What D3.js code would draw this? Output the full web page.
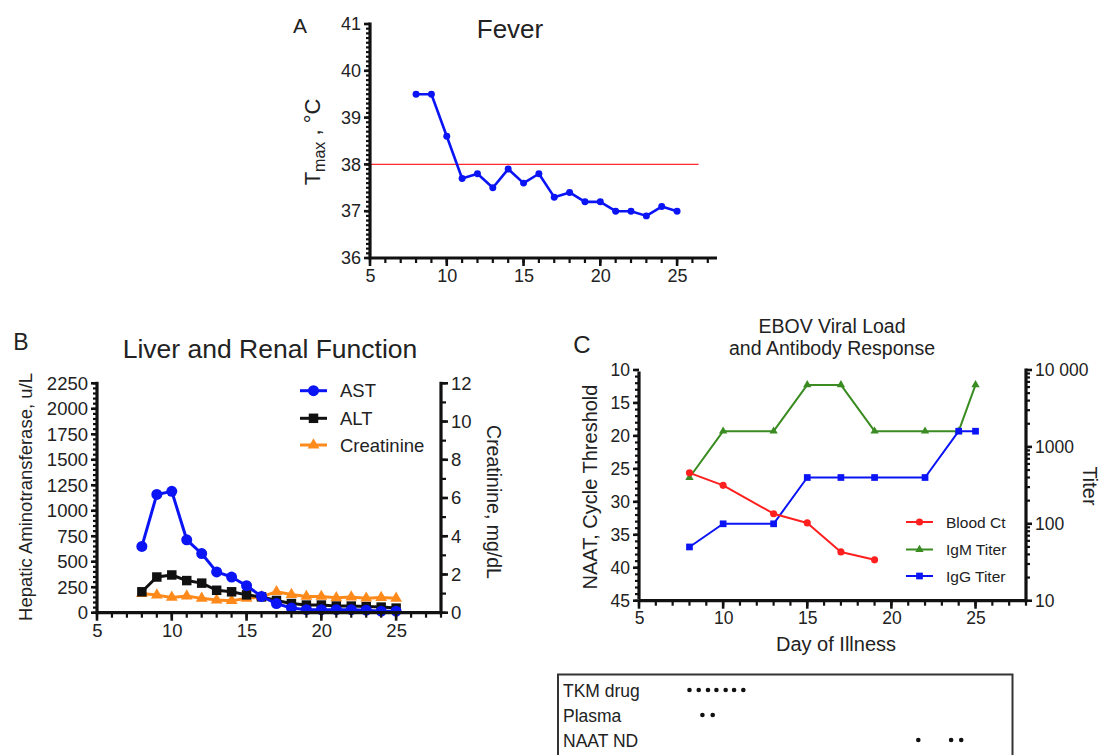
<!DOCTYPE html>
<html>
<head>
<meta charset="utf-8">
<script src="https://cdn.jsdelivr.net/npm/d3@7"></script>
<style>
  body { margin: 0; background: #fff; }
  text { font-family: "Liberation Sans", Arial, sans-serif; fill: #222; }
</style>
</head>
<body>
<svg id="fig" width="1101" height="755"></svg>
<script>
// Panel A - fever
const feverDays = [8, 9, 10, 11, 12, 13, 14, 15, 16, 17, 18, 19, 20, 21, 22, 23, 24, 25];
const tmax = [39.5, 39.5, 38.6, 37.7, 37.8, 37.5, 37.9, 37.6, 37.8, 37.3, 37.4, 37.2, 37.2, 37.0, 37.0, 36.9, 37.1, 37.0];
const feverLimit = 38;
const feverLimitEnd = 26.4;

// Panel B - liver and renal function
const labDays = [8, 9, 10, 11, 12, 13, 14, 15, 16, 17, 18, 19, 20, 21, 22, 23, 24, 25];
const astValues = [650, 1160, 1190, 715, 580, 400, 350, 265, 160, 90, 45, 30, 30, 30, 30, 25, 15, 15];
const altValues = [205, 350, 370, 315, 290, 220, 205, 175, 155, 120, 90, 75, 75, 65, 65, 60, 55, 45];
const creatinine = [1.0, 0.92, 0.8, 0.87, 0.75, 0.66, 0.63, 0.75, 0.83, 1.1, 0.95, 0.85, 0.85, 0.78, 0.82, 0.76, 0.79, 0.75];

// Panel C - viral load and antibodies
const ctDays = [8, 10, 13, 15, 17, 19];
const bloodCt = [25.6, 27.5, 31.8, 33.2, 37.6, 38.8];
const titerDays = [8, 10, 13, 15, 17, 19, 22, 24, 25];
const igmTiter = [400, 1600, 1600, 6400, 6400, 1600, 1600, 1600, 6400];
const iggTiter = [50, 100, 100, 400, 400, 400, 400, 1600, 1600];

// Treatment table
const treatRows = ["TKM drug", "Plasma", "NAAT ND"];
const tkmDays = [8.0, 8.55, 9.1, 9.6, 10.15, 10.65, 11.2];
const plasmaDays = [8.77, 9.38];
const naatNdDays = [21.6, 23.55, 24.15];

const svg = d3.select("#fig");
const dataLayer = svg.append("g");
const axisLayer = svg.append("g");

// ticks: d3 axis for placement and labels, then every tick line and the
// axis line redrawn as plain thick black lines (GraphPad look)
function drawAxis(axisFn, scale, majors, minors, fmt, pos, fontSize, majorLen = 7, minorLen = 4.5) {
  const vertical = axisFn === d3.axisLeft || axisFn === d3.axisRight;
  const sign = (axisFn === d3.axisLeft || axisFn === d3.axisTop) ? -1 : 1;
  const g = axisLayer.append("g").attr("transform", pos);

  g.append("g")
      .call(axisFn(scale).tickValues(majors).tickSize(0).tickSizeOuter(0)
        .tickPadding(majorLen + 3).tickFormat(fmt))
      .call(a => a.select(".domain").remove())
      .call(a => a.selectAll("text").style("font-size", fontSize + "px").attr("fill", "#222"));

  const ticks = minors.map(v => ({ v, len: minorLen, w: 2.2 }))
    .concat(majors.map(v => ({ v, len: majorLen, w: 2.6 })));
  g.selectAll("line.tk")
    .data(ticks)
    .join("line")
      .attr("class", "tk")
      .attr("x1", d => vertical ? 0 : scale(d.v))
      .attr("x2", d => vertical ? sign * d.len : scale(d.v))
      .attr("y1", d => vertical ? scale(d.v) : 0)
      .attr("y2", d => vertical ? scale(d.v) : sign * d.len)
      .attr("stroke", "#111")
      .attr("stroke-width", d => d.w);

  const [r0, r1] = scale.range();
  g.append("line")
      .attr("x1", vertical ? 0 : r0).attr("x2", vertical ? 0 : r1)
      .attr("y1", vertical ? r0 + 1.5 : 0).attr("y2", vertical ? r1 - 1.5 : 0)
      .attr("stroke", "#111")
      .attr("stroke-width", 3.2);
}

function label(text, x, y, size, opts = {}) {
  return svg.append("text")
      .attr("transform", `translate(${x},${y}) rotate(${opts.rotate || 0})`)
      .attr("text-anchor", opts.anchor || "middle")
      .style("font-size", size + "px")
      .text(text);
}

function series(xs, ys, x, y, color, width) {
  dataLayer.append("path")
      .datum(xs.map((d, i) => [d, ys[i]]))
      .attr("fill", "none")
      .attr("stroke", color)
      .attr("stroke-width", width)
      .attr("stroke-linejoin", "round")
      .attr("d", d3.line().x(d => x(d[0])).y(d => y(d[1])));
}

function markers(xs, ys, x, y, color, type, size) {
  dataLayer.append("g").selectAll("path")
    .data(xs.map((d, i) => [d, ys[i]]))
    .join("path")
      .attr("transform", d => `translate(${x(d[0])},${y(d[1])})`)
      .attr("d", d3.symbol().type(type).size(size))
      .attr("fill", color);
}

const dayTicks = [5, 10, 15, 20, 25];

// ---------- A ----------
const xA = d3.scaleLinear([5, 27.6], [370, 717]);
const yA = d3.scaleLinear([36, 41], [258, 24]);

dataLayer.append("line")
    .attr("x1", xA(5)).attr("x2", xA(feverLimitEnd))
    .attr("y1", yA(feverLimit)).attr("y2", yA(feverLimit))
    .attr("stroke", "#ff2a2a").attr("stroke-width", 1.3);

series(feverDays, tmax, xA, yA, "#0a14f5", 2.6);
markers(feverDays, tmax, xA, yA, "#0a14f5", d3.symbolCircle, 38);

drawAxis(d3.axisLeft, yA, d3.range(36, 42), d3.range(36, 41.01, 0.1), d3.format("d"), "translate(370,0)", 18, 6, 4);
drawAxis(d3.axisBottom, xA, dayTicks, d3.range(5, 28), d3.format("d"), "translate(0,258)", 18, 8, 5);

label("A", 300, 33, 21);
label("Fever", 510, 38, 26);
const tl = label("", 320, 142, 22, { rotate: -90 });
tl.append("tspan").text("T");
tl.append("tspan").attr("dy", 5).style("font-size", "16px").text("max");
tl.append("tspan").attr("dy", -5).text(" , °C");

// ---------- B ----------
const xB = d3.scaleLinear([5, 28], [97, 441]);
const yB = d3.scaleLinear([0, 2250], [612.7, 383.3]);
const yB2 = d3.scaleLinear([0, 12], [612.7, 383.3]);

series(labDays, creatinine, xB, yB2, "#ff8a1c", 3);
markers(labDays, creatinine, xB, yB2, "#ff8a1c", d3.symbolTriangle, 60);
series(labDays, altValues, xB, yB, "#111", 3);
markers(labDays, altValues, xB, yB, "#111", d3.symbolSquare, 90);
series(labDays, astValues, xB, yB, "#0a14f5", 3);
markers(labDays, astValues, xB, yB, "#0a14f5", d3.symbolCircle, 95);

drawAxis(d3.axisLeft, yB, d3.range(0, 2251, 250), d3.range(0, 2251, 50), d3.format("d"), "translate(97,0)", 18.5, 6, 4);
drawAxis(d3.axisRight, yB2, d3.range(0, 13, 2), d3.range(0, 13, 1), d3.format("d"), "translate(441,0)", 18.5, 7, 5);
drawAxis(d3.axisBottom, xB, dayTicks, d3.range(5, 29), d3.format("d"), "translate(0,612.7)", 18.5, 8, 5);

label("B", 21, 350, 23);
label("Liver and Renal Function", 270, 358, 26.5);
label("Hepatic Aminotransferase, u/L", 32, 497, 18.5, { rotate: -90 });
label("Creatinine, mg/dL", 487, 502, 19.5, { rotate: 90 });

const legB = [
  { name: "AST", color: "#0a14f5", type: d3.symbolCircle, size: 95, y: 390.7 },
  { name: "ALT", color: "#111", type: d3.symbolSquare, size: 90, y: 418.3 },
  { name: "Creatinine", color: "#ff8a1c", type: d3.symbolTriangle, size: 60, y: 445 }
];
legB.forEach(d => {
  dataLayer.append("line").attr("x1", 300).attr("x2", 327).attr("y1", d.y).attr("y2", d.y)
      .attr("stroke", d.color).attr("stroke-width", 3);
  dataLayer.append("path").attr("transform", `translate(313.5,${d.y})`)
      .attr("d", d3.symbol().type(d.type).size(d.size)).attr("fill", d.color);
  label(d.name, 340, d.y + 6.5, 18.5, { anchor: "start" });
});

// ---------- C ----------
const xC = d3.scaleLinear([5, 28], [639, 1026]);
const yC = d3.scaleLinear([10, 45], [370, 600.7]);
const yC2 = d3.scaleLog([10, 10000], [600.7, 370]);

const logMinor = [];
[10, 100, 1000].forEach(b => d3.range(2, 10).forEach(k => logMinor.push(b * k)));

series(titerDays, igmTiter, xC, yC2, "#3a8c22", 2);
markers(titerDays, igmTiter, xC, yC2, "#3a8c22", d3.symbolTriangle, 30);
series(titerDays, iggTiter, xC, yC2, "#0a14f5", 2);
markers(titerDays, iggTiter, xC, yC2, "#0a14f5", d3.symbolSquare, 45);
series(ctDays, bloodCt, xC, yC, "#ff1f1f", 2);
markers(ctDays, bloodCt, xC, yC, "#ff1f1f", d3.symbolCircle, 40);

drawAxis(d3.axisLeft, yC, d3.range(10, 46, 5), d3.range(10, 46, 1), d3.format("d"), "translate(639,0)", 17.5, 6, 4);
drawAxis(d3.axisRight, yC2, [10, 100, 1000, 10000], logMinor,
  d => d === 10000 ? "10 000" : String(d), "translate(1026,0)", 17.5, 6, 4);
drawAxis(d3.axisBottom, xC, dayTicks, d3.range(5, 29), d3.format("d"), "translate(0,600.7)", 17.5, 8, 5);

label("C", 582, 353, 24);
label("EBOV Viral Load", 832, 333, 19.5);
label("and Antibody Response", 832, 355, 19.5);
label("NAAT, Cycle Threshold", 597, 487, 20, { rotate: -90 });
label("Titer", 1083, 486, 20, { rotate: 90 });
label("Day of Illness", 836, 651, 20);

const legC = [
  { name: "Blood Ct", color: "#ff1f1f", type: d3.symbolCircle, size: 40, y: 522 },
  { name: "IgM Titer", color: "#3a8c22", type: d3.symbolTriangle, size: 30, y: 549.5 },
  { name: "IgG Titer", color: "#0a14f5", type: d3.symbolSquare, size: 45, y: 576 }
];
legC.forEach(d => {
  dataLayer.append("line").attr("x1", 906).attr("x2", 933).attr("y1", d.y).attr("y2", d.y)
      .attr("stroke", d.color).attr("stroke-width", 2);
  dataLayer.append("path").attr("transform", `translate(919.5,${d.y})`)
      .attr("d", d3.symbol().type(d.type).size(d.size)).attr("fill", d.color);
  label(d.name, 946, d.y + 5.5, 15.5, { anchor: "start" });
});

// ---------- treatment table ----------
dataLayer.append("rect")
    .attr("x", 558).attr("y", 674.5).attr("width", 454.5).attr("height", 100)
    .attr("fill", "none").attr("stroke", "#333").attr("stroke-width", 2);

const rowY = d3.scalePoint(treatRows, [690, 740]);
treatRows.forEach(r => label(r, 563, rowY(r) + 7, 17.5, { anchor: "start" }));

[[treatRows[0], tkmDays], [treatRows[1], plasmaDays], [treatRows[2], naatNdDays]].forEach(([r, ds]) => {
  dataLayer.append("g").selectAll("circle")
    .data(ds)
    .join("circle")
      .attr("cx", d => xC(d))
      .attr("cy", rowY(r))
      .attr("r", 2.3)
      .attr("fill", "#111");
});
</script>
</body>
</html>
